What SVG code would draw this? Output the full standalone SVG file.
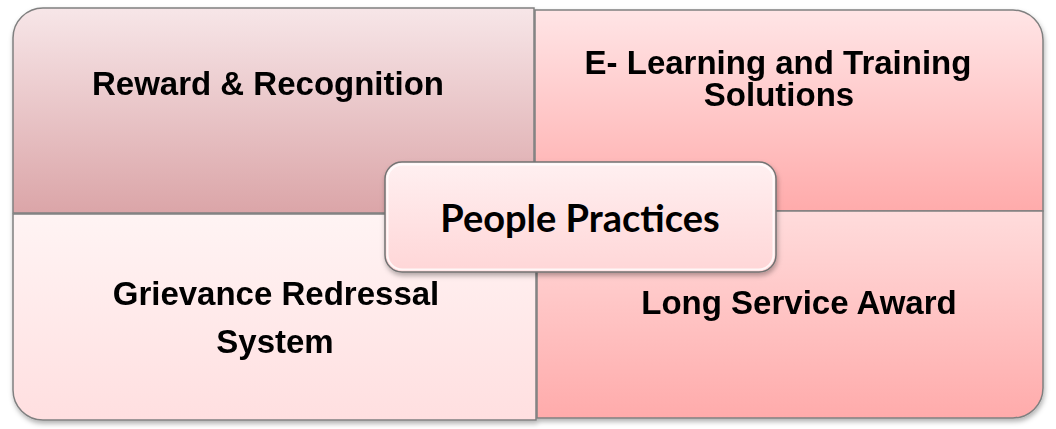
<svg xmlns="http://www.w3.org/2000/svg" width="1056" height="429" viewBox="0 0 1056 429">
<defs>
<linearGradient id="gTL" x1="0" y1="0" x2="0" y2="1"><stop offset="0" stop-color="#f7e6e8"/><stop offset="1" stop-color="#dba5a8"/></linearGradient>
<linearGradient id="gTR" x1="0" y1="0" x2="0" y2="1"><stop offset="0" stop-color="#ffe5e6"/><stop offset="1" stop-color="#ffabab"/></linearGradient>
<linearGradient id="gBL" x1="0" y1="0" x2="0" y2="1"><stop offset="0" stop-color="#fff4f4"/><stop offset="1" stop-color="#ffdfe0"/></linearGradient>
<linearGradient id="gBR" x1="0" y1="0" x2="0" y2="1"><stop offset="0" stop-color="#ffdcdc"/><stop offset="1" stop-color="#ffabab"/></linearGradient>
<linearGradient id="gC" x1="0" y1="0" x2="0" y2="1"><stop offset="0" stop-color="#fff0f1"/><stop offset="1" stop-color="#ffd6d7"/></linearGradient>
<filter id="sh" x="-5%" y="-5%" width="110%" height="115%"><feDropShadow dx="1" dy="3" stdDeviation="2.5" flood-color="#000" flood-opacity="0.3"/></filter>
</defs>
<style>
.q{stroke:#808080;stroke-width:1.5}
.t{font-family:"Liberation Sans",Arial,sans-serif;font-weight:bold;font-size:33px;fill:#000;text-anchor:middle}
.c{font-family:Lato,"Open Sans",sans-serif;font-weight:bold;font-size:38px;fill:#000;text-anchor:middle}
</style>
<g filter="url(#sh)">
<g id="tl"><path class="q" fill="url(#gTL)" d="M13,38 A30,30 0 0 1 43,8 H534 V213 H13 Z"/>
<text class="t" x="268" y="95">Reward &amp; Recognition</text></g>
<g id="tr"><path class="q" fill="url(#gTR)" d="M535,10 H1013 A30,30 0 0 1 1043,40 V211 H535 Z"/>
<text class="t" x="778" y="74">E- Learning and Training</text>
<text class="t" x="779" y="106">Solutions</text></g>
<g id="bl"><path class="q" fill="url(#gBL)" d="M13,214 H536 V420 H43 A30,30 0 0 1 13,390 Z"/>
<text class="t" x="276" y="305">Grievance Redressal</text>
<text class="t" x="275" y="353">System</text></g>
<g id="br"><path class="q" fill="url(#gBR)" d="M537,211 H1043 V388 A30,30 0 0 1 1013,418 H537 Z"/>
<text class="t" x="799" y="314">Long Service Award</text></g>
</g>
<g id="center">
<rect x="385" y="162" width="391" height="110" rx="17" fill="url(#gC)" stroke="#737373" stroke-width="1.5" filter="url(#sh)"/>
<rect x="387.5" y="164.5" width="386" height="105" rx="15" fill="none" stroke="#ffffff" stroke-width="2" opacity="0.8"/>
<text class="c" x="580" y="232">People Practices</text>
</g>
<g id="connectors"/>
</svg>
